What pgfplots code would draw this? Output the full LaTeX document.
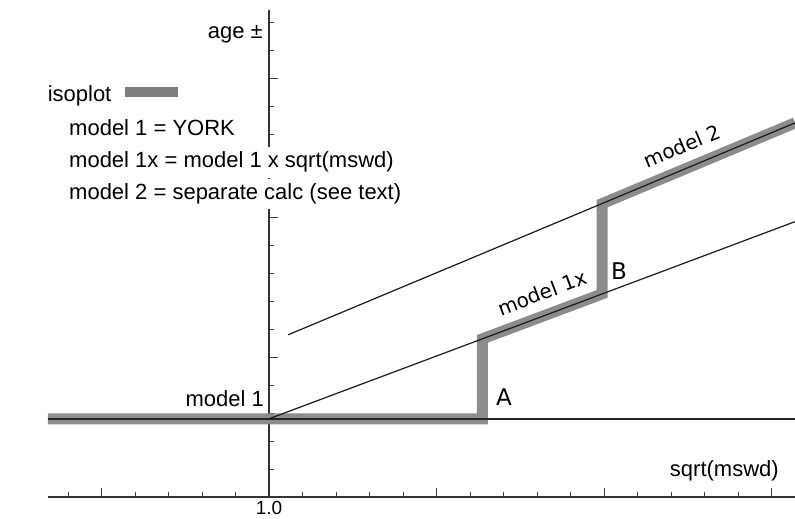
\documentclass[border=0pt]{standalone}
\usepackage{fontspec}
\setmainfont{Liberation Sans}
\newfontfamily\dejavu{DejaVu Sans}
\usepackage{pgfplots}
\pgfplotsset{compat=1.18}
\definecolor{band}{RGB}{140,140,140}
\definecolor{keybar}{RGB}{125,125,125}

\begin{document}
\begin{tikzpicture}
\begin{axis}[%
  x=335bp, y=27.9bp,%
  xmin=-0.66, xmax=1.57,%
  ymin=0, ymax=17.45,%
  axis lines=middle,%
  axis line style={-, black!80, line width=1.3bp},%
  clip=false,%
  tick align=inside,%
  xtick={-0.5,0,0.5,1,1.5},%
  xticklabels={,1.0,,,},%
  minor xtick={-0.6,-0.4,-0.3,-0.2,-0.1,0.1,0.2,0.3,0.4,0.6,0.7,0.8,0.9,1.1,1.2,1.3,1.4},%
  ytick={5,10,15},%
  yticklabels={},%
  minor ytick={1,2,3,4,6,7,8,9,11,12,13,14,16,17},%
  major tick length=9bp,%
  minor tick length=5bp,%
  tick style={black!75, line width=0.9bp},%
  hide obscured x ticks=false,%
  /pgf/number format/assume math mode=true,%
  xticklabel style={font=\fontsize{19bp}{22bp}\selectfont, inner sep=4bp},%
  ]
% isoplot path (grey band)
\addplot[band, line width=11bp, line join=miter] coordinates {
  (-0.66,2.8) (0.637,2.8) (0.637,5.667) (0.994,7.273) (0.994,10.51) (1.570,13.405)
};
% legend key
\addplot[keybar, line width=10bp] coordinates {(-0.430,14.52) (-0.272,14.52)};
% model 1
\addplot[black!85, line width=2bp] coordinates {(-0.66,2.8) (1.57,2.8)};
% model 1x
\addplot[black!90, line width=1.2bp] coordinates {(0,2.8) (1.57,9.865)};
% model 2
\addplot[black!90, line width=1.2bp] coordinates {(0.057,5.81) (1.57,13.405)};

\begin{scope}[font=\fontsize{22bp}{26bp}\selectfont, inner sep=0pt]
\node[anchor=base east] at (axis cs:-0.018,16.42) {age ±};
\node[anchor=base west] at (axis cs:-0.661,14.17) {isoplot};
\node[anchor=base west] at (axis cs:-0.597,12.95) {model 1 = YORK};
\node[anchor=base west, fill=white, inner ysep=5bp, inner xsep=2bp] at (axis cs:-0.603,11.79) {model 1x = model 1 x sqrt(mswd)};
\node[anchor=base west, fill=white, inner ysep=5bp, inner xsep=2bp] at (axis cs:-0.603,10.65) {model 2 = separate calc (see text)};
\node[anchor=base east] at (axis cs:-0.015,3.23) {model 1};
\node[anchor=base east] at (axis cs:1.522,0.717) {sqrt(mswd)};
\end{scope}
\begin{scope}[font=\dejavu\fontsize{20bp}{24bp}\selectfont, inner sep=0pt]
\node[font=\dejavu\fontsize{23bp}{26bp}\selectfont] at (axis cs:0.7015,3.58) {A};
\node[font=\dejavu\fontsize{23bp}{26bp}\selectfont] at (axis cs:1.045,8.10) {B};
\node[rotate=20.6] at (axis cs:0.815,7.32) {model 1x};
\node[rotate=22.7] at (axis cs:1.233,12.58) {model 2};
\end{scope}
\coordinate (bl) at (axis cs:-0.803,-0.789);
\coordinate (tr) at (axis cs:1.570,17.81);
\end{axis}
\pgfresetboundingbox
\path (bl) rectangle (tr);
\end{tikzpicture}
\end{document}
